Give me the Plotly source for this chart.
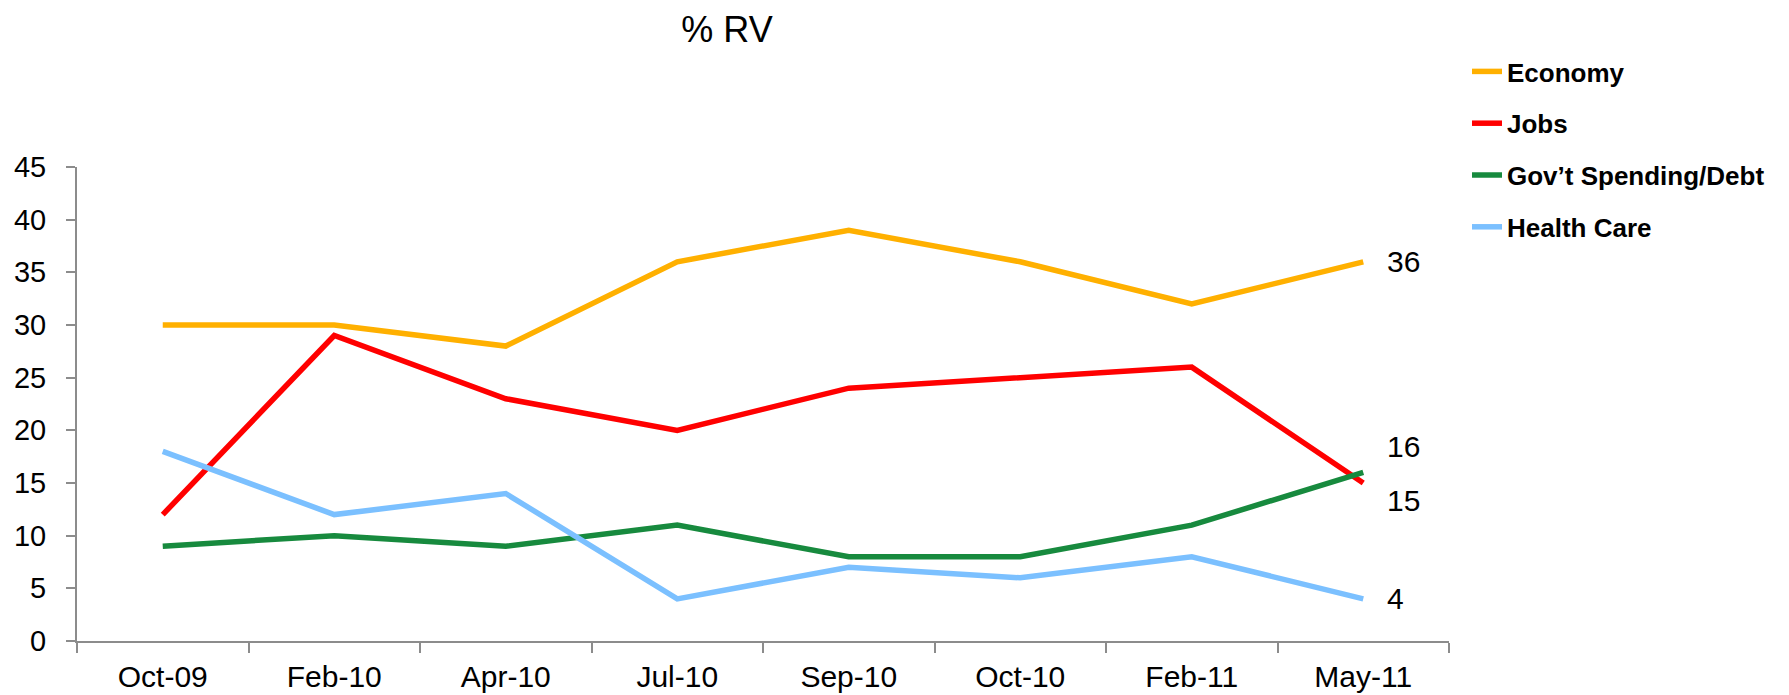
import plotly.graph_objects as go

categories = ["Oct-09", "Feb-10", "Apr-10", "Jul-10", "Sep-10", "Oct-10", "Feb-11", "May-11"]
economy = [30, 30, 28, 36, 39, 36, 32, 36]
jobs = [12, 29, 23, 20, 24, 25, 26, 15]
govt = [9, 10, 9, 11, 8, 8, 11, 16]
health = [18, 12, 14, 4, 7, 6, 8, 4]

series = [
    ("Economy", economy, "#FFB000", 0),
    ("Jobs", jobs, "#FF0000", -17),
    ("Gov\u2019t Spending/Debt", govt, "#178A3E", 26),
    ("Health Care", health, "#7BC0FF", 0),
]

FONT = "Liberation Sans, Arial, sans-serif"

fig = go.Figure()
for i, (name, vals, color, _) in enumerate(series):
    fig.add_trace(go.Scatter(
        x=categories, y=vals, mode="lines", name=name,
        line=dict(color=color, width=5.5), legendgroup=f"g{i}",
    ))

for name, vals, color, yshift in series:
    fig.add_annotation(
        x=categories[-1], y=vals[-1], text=str(vals[-1]),
        showarrow=False, xanchor="left", yanchor="middle",
        xshift=22, yshift=yshift,
        font=dict(family=FONT, size=30, color="black"),
    )

W, H = 1789, 695
L, R, T, B = 69, 348, 159, 62
pw, ph = W - L - R, H - T - B

fig.update_layout(
    width=W, height=H,
    paper_bgcolor="white", plot_bgcolor="white",
    margin=dict(l=L, r=R, t=T, b=B),
    font=dict(family=FONT, color="black"),
    title=dict(text="% RV", x=719 / W, xref="container", xanchor="center",
               y=1 - 21 / H, yref="container", yanchor="middle",
               font=dict(family=FONT, size=36, color="black")),
    legend=dict(x=(1459 - L) / pw, xanchor="left",
                y=(H - B - 40) / ph, yanchor="top",
                font=dict(family=FONT, size=26, color="black", weight="bold"),
                tracegroupgap=15, bgcolor="rgba(0,0,0,0)"),
    showlegend=True,
)
fig.update_xaxes(
    type="category", range=[-0.5, 7.5], showline=True, linecolor="#8C8C8C", linewidth=2,
    ticks="outside", tickson="boundaries", ticklen=10, tickcolor="#8C8C8C", tickwidth=2,
    showgrid=False, zeroline=False, automargin=False,
    tickfont=dict(family=FONT, size=30, color="black"), ticklabelstandoff=8,
)
fig.update_yaxes(
    range=[0, 45], dtick=5, showline=True, linecolor="#8C8C8C", linewidth=2,
    ticks="outside", ticklen=9, tickcolor="#8C8C8C", tickwidth=2,
    showgrid=False, zeroline=False, automargin=False,
    tickfont=dict(family=FONT, size=29, color="black"), ticklabelstandoff=14,
)

fig.write_html("out.html")
